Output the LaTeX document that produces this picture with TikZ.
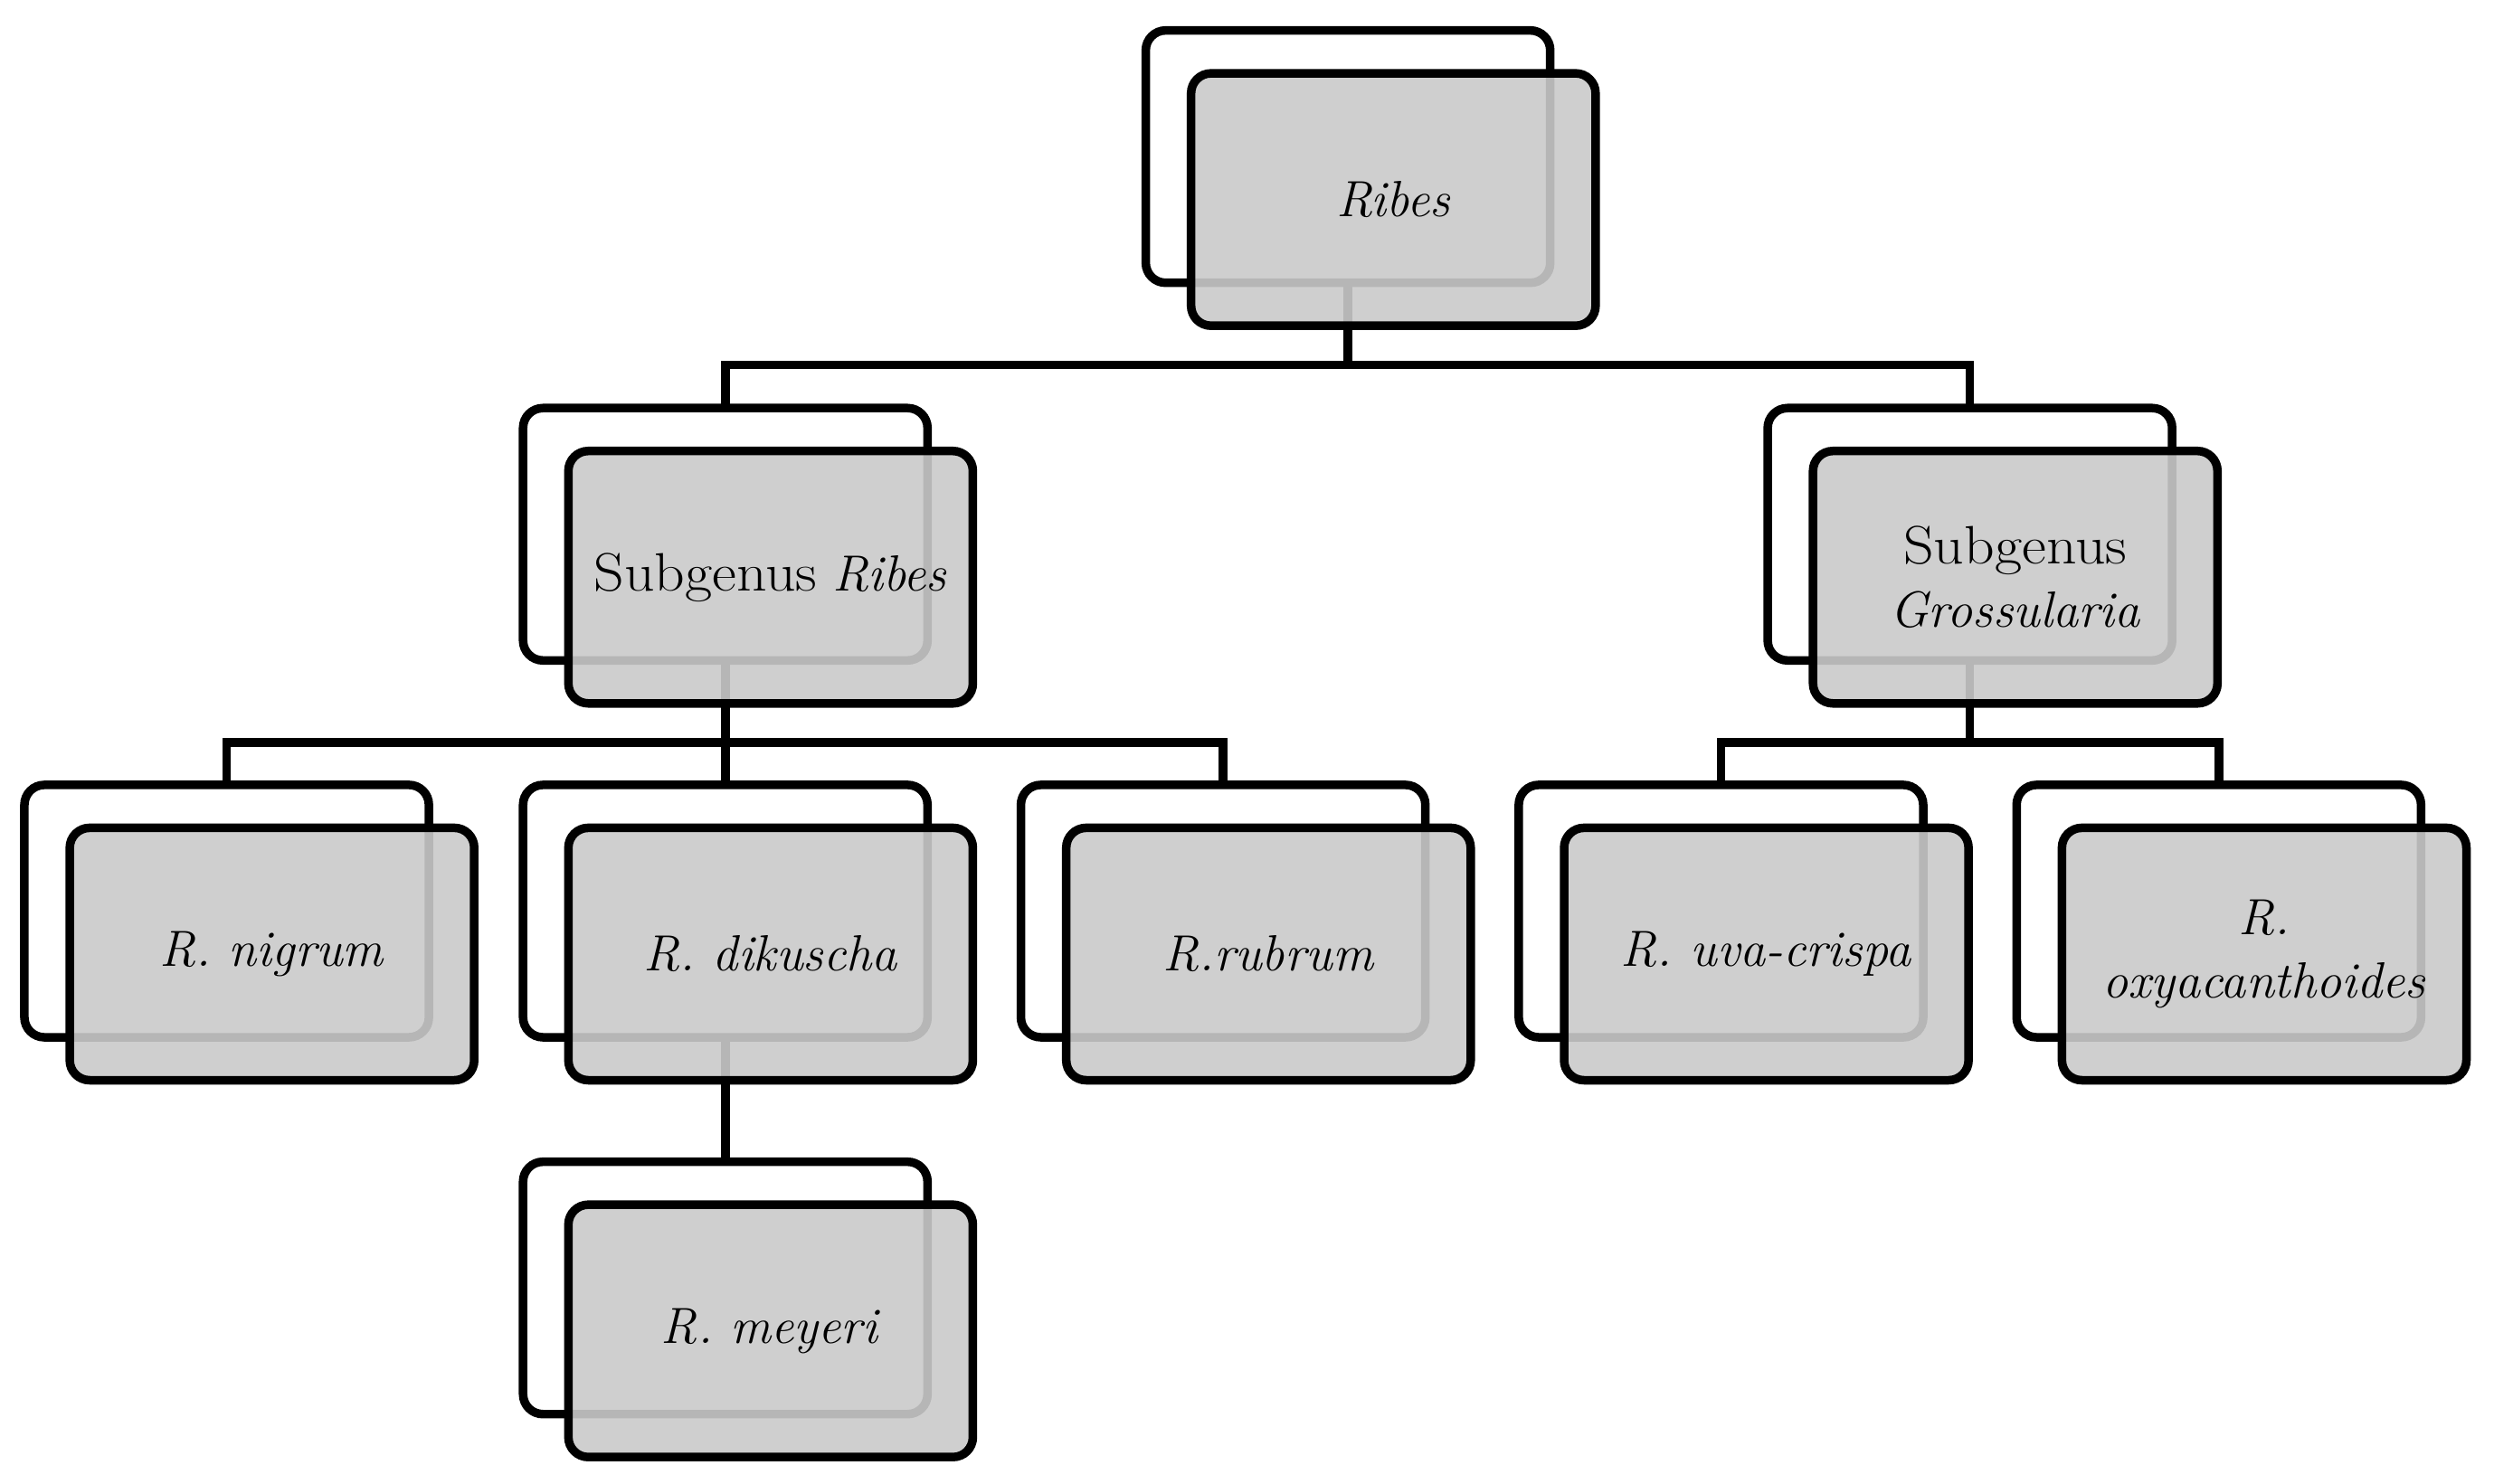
\documentclass[tikz,border=0pt]{standalone}
\definecolor{boxfill}{RGB}{202,202,202}
\newcommand{\subgen}{\scalebox{1.1}[1]{\fontsize{17}{20}\selectfont Subgenus}}
\begin{document}
\begin{tikzpicture}[x=0.017583cm, y=-0.017583cm,
  backbox/.style={draw, line width=2.7pt, rounded corners=0.22cm, minimum width=4.47cm, minimum height=2.79cm, inner sep=0pt, outer sep=0pt},
  frontbox/.style={backbox, fill=boxfill, fill opacity=0.9, text opacity=1, align=center, font=\fontsize{16}{20}\selectfont},
  conn/.style={line width=2.7pt}]
\useasboundingbox (0,0) rectangle (1568,933);
% back boxes
\node[backbox] (topb) at (847.5,98.5) {};
\node[backbox] (srb) at (456,336) {};
\node[backbox] (grb) at (1238.5,336) {};
\node[backbox] (nib) at (142.5,573) {};
\node[backbox] (dib) at (456,573) {};
\node[backbox] (rub) at (769,573) {};
\node[backbox] (uvb) at (1082,573) {};
\node[backbox] (oxb) at (1395,573) {};
\node[backbox] (meb) at (456,810) {};
% connectors
\coordinate (j1) at (847.5,229.5);
\coordinate (j2) at (456,467);
\coordinate (j3) at (1238.5,467);
\draw[conn] (topb.south) -- (j1) -| (srb.north);
\draw[conn] (j1) -| (grb.north);
\draw[conn] (srb.south) -- (j2) -| (nib.north);
\draw[conn] (j2) -| (rub.north);
\draw[conn] (j2) -- (dib.north);
\draw[conn] (grb.south) -- (j3) -| (uvb.north);
\draw[conn] (j3) -| (oxb.north);
\draw[conn] (dib.south) -- (meb.north);
% front boxes
\node[frontbox] (topf) at (876,125.5) {\textit{Ribes}};
\node[frontbox] (srf) at (484.5,363) {\subgen{} \textit{Ribes}};
\node[frontbox] (grf) at (1267,363) {\subgen\\\textit{Grossularia}};
\node[frontbox] (nif) at (171,600) {\textit{R. nigrum}};
\node[frontbox] (dif) at (484.5,600) {\textit{R. dikuscha}};
\node[frontbox] (ruf) at (797.5,600) {\textit{R.rubrum}};
\node[frontbox] (uvf) at (1110.5,600) {\textit{R. uva-crispa}};
\node[frontbox] (oxf) at (1423.5,600) {\textit{R.}\\\textit{oxyacanthoides}};
\node[frontbox] (mef) at (484.5,837) {\textit{R. meyeri}};
\end{tikzpicture}
\end{document}
